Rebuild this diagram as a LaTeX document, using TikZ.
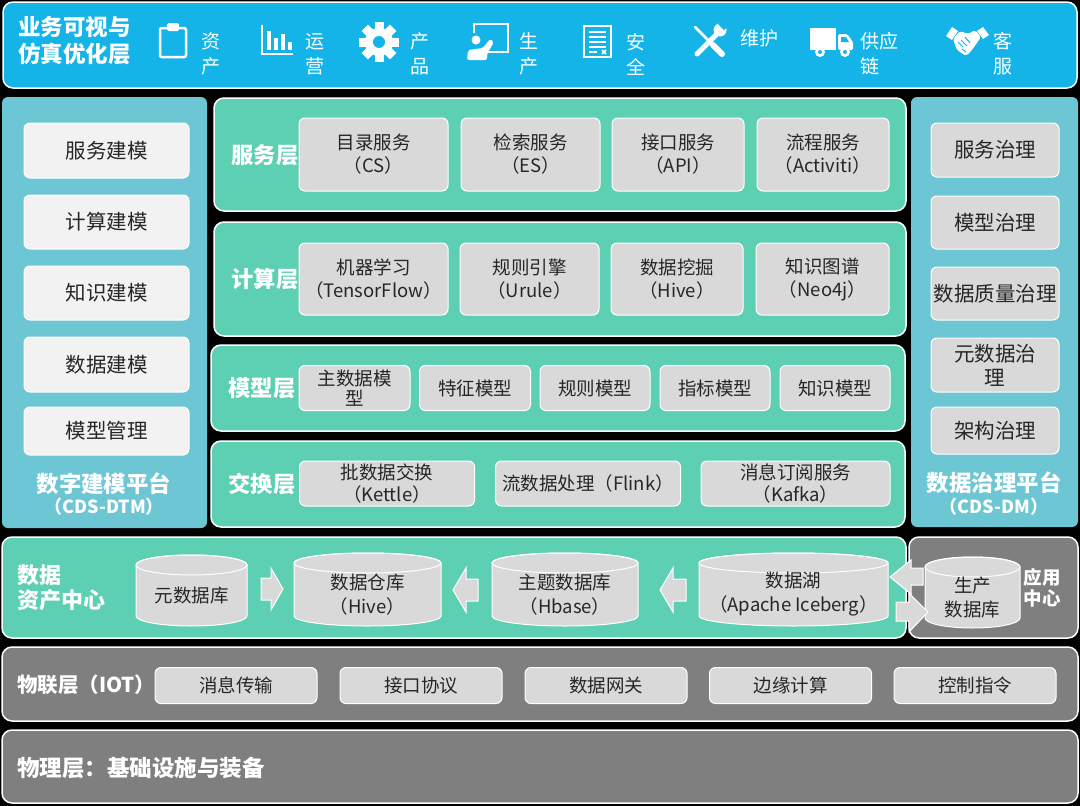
\documentclass[tikz,border=0pt]{standalone}
\usepackage{fontspec}
\setmainfont{Noto Sans CJK SC}
\usetikzlibrary{calc}
\definecolor{topblue}{HTML}{14B4E9}
\definecolor{mint}{HTML}{5DCFB2}
\definecolor{panel}{HTML}{6CC6D4}
\definecolor{layergray}{HTML}{7F7F7F}
\definecolor{boxgray}{HTML}{D9D9D9}
\definecolor{boxlight}{HTML}{F2F2F2}
\definecolor{txt}{HTML}{262626}
\tikzset{
 layer/.style={rounded corners=10pt, draw=white, line width=1.5pt},
 panelbox/.style={rounded corners=6pt, fill=panel},
 ibox/.style={rounded corners=6pt, fill=boxgray, draw=white, line width=1pt, inner sep=0pt, align=center, text=txt, font=\fontsize{18.5}{23}\selectfont},
 sbox/.style={ibox, font=\fontsize{20.5}{24}\selectfont},
 lbox/.style={sbox, fill=boxlight},
 lbl/.style={text=white, font=\bfseries\fontsize{22.3}{26}\selectfont, inner sep=0pt, align=center},
 icontext/.style={text=white, font=\fontsize{19}{25}\selectfont, inner sep=0pt, align=center},
 cylst/.style={fill=boxgray, draw=white, line width=1pt},
 cyltext/.style={text=txt, align=center, inner sep=0pt, font=\fontsize{18.5}{24}\selectfont},
 blk/.style={fill=boxgray, draw=white, line width=1pt, line join=miter},
}
% cylinder: name, cx, rx, ytop, ybot, text
\newcommand\mycyl[6]{%
 \path[cylst] ({#2-#3},{#4+10}) -- ({#2-#3},{#5-10})
   arc[start angle=180, end angle=360, x radius=#3pt, y radius=10pt]
   -- ({#2+#3},{#4+10})
   arc[start angle=0, end angle=180, x radius=#3pt, y radius=10pt] -- cycle;
 \draw[white, line width=1pt] (#2,{#4+10}) ellipse [x radius=#3pt, y radius=10pt];
 \node[cyltext] (#1) at (#2,{(#4+10+#5)/2}) {#6};
}
\begin{document}
\begin{tikzpicture}[x=1pt,y=-1pt]
\useasboundingbox (0,0) rectangle (1080,806);
\fill[black] (0,0) rectangle (1080,806);

% ---------- top bar ----------
\draw[layer, fill=topblue] (3,2) rectangle (1077,88);
\node[lbl, anchor=west, align=left, font=\bfseries\fontsize{22.5}{27}\selectfont] (toptitle) at (18,41) {业务可视与\\仿真优化层};
% clipboard
\draw[white, line width=2.5pt, rounded corners=2pt] (160,28) rectangle (186,57);
\fill[white, rounded corners=1.5pt] (167,23) rectangle (179,31);
\node[icontext] (t1) at (211,54) {资\\产};
% bar chart
\draw[white, line width=2.5pt] (262,25) -- (262,54) -- (293,54);
\fill[white] (267,31) rectangle (271,50);
\fill[white] (274,38) rectangle (278,50);
\fill[white] (281,34) rectangle (285,50);
\fill[white] (288,42) rectangle (292,50);
\node[icontext] (t2) at (315,54) {运\\营};
% gear
\foreach \a in {0,45,...,315}
  \fill[white, rotate around={\a:(379,42)}] (374.5,22) rectangle (383.5,32);
\fill[white] (379,42) circle (14pt);
\fill[topblue] (379,42) circle (6pt);
\node[icontext] (t3) at (420,54) {产\\品};
% teaching board
\draw[white, line width=2.5pt] (482,52) -- (508,52) -- (508,24) -- (474,24) -- (474,33);
\fill[white] (476,40) circle (4.5pt);
\fill[white, rounded corners=2pt] (467,60) -- (468,50) -- (483,48) -- (490,39) -- (494,42) -- (487,54) -- (487,60) -- cycle;
\node[icontext] (t4) at (529,54) {生\\产};
% document
\draw[white, line width=2.2pt] (584,26) rectangle (611,57);
\foreach \yy in {32,37,42,47}
  \draw[white, line width=1.5pt] (589,\yy) -- (606,\yy);
\draw[white, line width=1.5pt] (589,52) -- (597,52);
\draw[white, line width=1.5pt] (602,50) -- (606,54) (602,54) -- (606,50);
\node[icontext] (t5) at (636,54) {安\\全};
% tools
\draw[white, line width=2.5pt, line cap=round] (695,27) -- (712,44);
\draw[white, line width=6pt, line cap=round] (713,45) -- (722,54);
\draw[white, line width=5pt, line cap=round] (697,54) -- (716,35);
\fill[white] (720,30) circle (6.5pt);
\fill[topblue, rotate around={45:(724,26)}] (721,21) rectangle (727,29);
\node[icontext] (t6) at (759,38) {维护};
% truck
\fill[white] (810,28) rectangle (836,50);
\fill[white, rounded corners=1.5pt] (838,34) -- (847,34) -- (853,42) -- (853,50) -- (838,50) -- cycle;
\fill[topblue] (841,37) -- (846,37) -- (849,42) -- (841,42) -- cycle;
\fill[white] (820,52) circle (5pt);
\fill[white] (845,52) circle (5pt);
\fill[topblue] (820,52) circle (2pt);
\fill[topblue] (845,52) circle (2pt);
\node[icontext, anchor=west, align=left] (t7) at (860,54) {供应\\链};
% handshake
\fill[white] (946,36) -- (952,27) -- (958,31) -- (952,40) -- cycle;
\fill[white] (983,27) -- (989,35) -- (983,39) -- (977,31) -- cycle;
\fill[white, rounded corners=2pt] (953,39) -- (960,31) -- (968,34) -- (975,30) -- (981,37) -- (972,50) -- (966,56) -- (957,50) -- cycle;
\draw[topblue, line width=1pt] (958,42) -- (963,47) (961,40) -- (967,46) (965,37) -- (970,43) (962,49) -- (966,52);
\node[icontext] (t8) at (1003,54) {客\\服};

% ---------- left panel ----------
\fill[panelbox] (2,97) rectangle (207,528);
\node[lbox, minimum width=165pt, minimum height=55pt] (l1) at (106.5,150.5) {服务建模};
\node[lbox, minimum width=165pt, minimum height=54pt] (l2) at (106.5,222) {计算建模};
\node[lbox, minimum width=165pt, minimum height=54pt] (l3) at (106.5,293) {知识建模};
\node[lbox, minimum width=165pt, minimum height=55pt] (l4) at (106.5,364.5) {数据建模};
\node[lbox, minimum width=165pt, minimum height=48pt] (l5) at (106.5,431) {模型管理};
\node[lbl, font=\bfseries\fontsize{22.5}{26}\selectfont] (ltitle) at (104,484) {数字建模平台};
\node[lbl, font=\bfseries\fontsize{18}{22}\selectfont] (lsub) at (104,507) {（CDS-DTM）};

% ---------- right panel ----------
\fill[panelbox] (911,97) rectangle (1078,527);
\node[sbox, minimum width=128pt, minimum height=54pt] (r1) at (995,150) {服务治理};
\node[sbox, minimum width=128pt, minimum height=53pt] (r2) at (995,222.5) {模型治理};
\node[sbox, minimum width=128pt, minimum height=53pt] (r3) at (995,293.5) {数据质量治理};
\node[sbox, minimum width=128pt, minimum height=54pt] (r4) at (995,365) {元数据治\\理};
\node[sbox, minimum width=128pt, minimum height=47pt] (r5) at (995,430.5) {架构治理};
\node[lbl, font=\bfseries\fontsize{22.5}{26}\selectfont] (rtitle) at (994,483) {数据治理平台};
\node[lbl, font=\bfseries\fontsize{18}{22}\selectfont] (rsub) at (994,507) {（CDS-DM）};

% ---------- service layer ----------
\draw[layer, fill=mint] (214,98) rectangle (906,211);
\node[lbl] (svc) at (265,155) {服务层};
\node[ibox, minimum width=149pt, minimum height=73pt] (cs) at (373.5,154.5) {目录服务\\（CS）};
\node[ibox, minimum width=139pt, minimum height=73pt] (es) at (530.5,154.5) {检索服务\\（ES）};
\node[ibox, minimum width=132pt, minimum height=73pt] (api) at (678,154.5) {接口服务\\（API）};
\node[ibox, minimum width=132pt, minimum height=73pt] (act) at (823,154.5) {流程服务\\（Activiti）};

% ---------- compute layer ----------
\draw[layer, fill=mint] (214,222) rectangle (906,336);
\node[lbl] (cmp) at (265,279) {计算层};
\node[ibox, minimum width=149pt, minimum height=72pt] (ml) at (373.5,279) {机器学习\\（TensorFlow）};
\node[ibox, minimum width=139pt, minimum height=72pt] (ru) at (529.5,279) {规则引擎\\（Urule）};
\node[ibox, minimum width=132pt, minimum height=72pt] (dm) at (677,279) {数据挖掘\\（Hive）};
\node[ibox, minimum width=133pt, minimum height=72pt] (kg) at (822.5,279) {知识图谱\\（Neo4j）};

% ---------- model layer ----------
\draw[layer, fill=mint] (211,345) rectangle (905,431);
\node[lbl] (mdl) at (262,388) {模型层};
\node[ibox, minimum width=111pt, minimum height=45pt, font=\fontsize{18.5}{20}\selectfont] (m1) at (354.5,388) {主数据模\\型};
\node[ibox, minimum width=111pt, minimum height=45pt] (m2) at (475,388) {特征模型};
\node[ibox, minimum width=110pt, minimum height=45pt] (m3) at (595,388) {规则模型};
\node[ibox, minimum width=110pt, minimum height=45pt] (m4) at (715,388) {指标模型};
\node[ibox, minimum width=110pt, minimum height=45pt] (m5) at (835,388) {知识模型};

% ---------- exchange layer ----------
\draw[layer, fill=mint] (211,441) rectangle (905,527);
\node[lbl] (exc) at (262,484) {交换层};
\node[ibox, minimum width=175pt, minimum height=45pt, font=\fontsize{18.5}{22}\selectfont] (e1) at (387,483.5) {批数据交换\\（Kettle）};
\node[ibox, minimum width=185pt, minimum height=45pt] (e2) at (588,483.5) {流数据处理（Flink）};
\node[ibox, minimum width=189pt, minimum height=45pt, font=\fontsize{18.5}{22}\selectfont] (e3) at (795.5,483.5) {消息订阅服务\\（Kafka）};

% ---------- data asset center / app center ----------
\draw[layer, fill=mint] (2,537) rectangle (906,638);
\draw[layer, fill=layergray] (909,537) rectangle (1078,638);
\node[lbl, anchor=west, align=left, font=\bfseries\fontsize{22}{25}\selectfont] (dac) at (17,588) {数据\\资产中心};
\node[lbl, font=\bfseries\fontsize{18.5}{21}\selectfont] (appc) at (1042,588) {应用\\中心};
\mycyl{c1}{191.5}{55.5}{555}{626}{元数据库}
\mycyl{c2}{367.5}{73.5}{553}{626}{数据仓库\\（Hive）}
\mycyl{c3}{565}{73}{553}{626}{主题数据库\\（Hbase）}
\mycyl{c4}{793.5}{94.5}{553}{626}{数据湖\\（Apache Iceberg）}
\mycyl{c5}{972.5}{47.5}{557}{628}{生产\\数据库}
% block arrows
\path[blk] (261,578) -- (271,578) -- (271,568) -- (283,589) -- (271,610) -- (271,600) -- (261,600) -- cycle;
\path[blk] (478,579) -- (466,579) -- (466,568) -- (453,590) -- (466,612) -- (466,601) -- (478,601) -- cycle;
\path[blk] (686,579) -- (673,579) -- (673,568) -- (660,590) -- (673,612) -- (673,601) -- (686,601) -- cycle;
\path[blk] (923,568) -- (911,568) -- (911,560) -- (890,577) -- (911,594) -- (911,585) -- (923,585) -- cycle;
\path[blk] (896,602) -- (909,602) -- (909,593) -- (928,612) -- (909,632) -- (909,621) -- (896,621) -- cycle;

% ---------- IoT layer ----------
\draw[layer, fill=layergray] (2,647) rectangle (1078,721);
\node[lbl, anchor=west, font=\bfseries\fontsize{20.5}{22}\selectfont] (iot) at (17,685) {物联层（IOT）};
\node[ibox, minimum width=162pt, minimum height=36pt] (i1) at (236,685.5) {消息传输};
\node[ibox, minimum width=162pt, minimum height=36pt] (i2) at (421,685.5) {接口协议};
\node[ibox, minimum width=162pt, minimum height=36pt] (i3) at (606,685.5) {数据网关};
\node[ibox, minimum width=162pt, minimum height=36pt] (i4) at (790.5,685.5) {边缘计算};
\node[ibox, minimum width=162pt, minimum height=36pt] (i5) at (975,685.5) {控制指令};

% ---------- physical layer ----------
\draw[layer, fill=layergray] (2,730) rectangle (1078,803);
\node[lbl, anchor=west, font=\bfseries\fontsize{22.5}{25}\selectfont] (phy) at (17,768) {物理层：基础设施与装备};
\end{tikzpicture}
\end{document}
